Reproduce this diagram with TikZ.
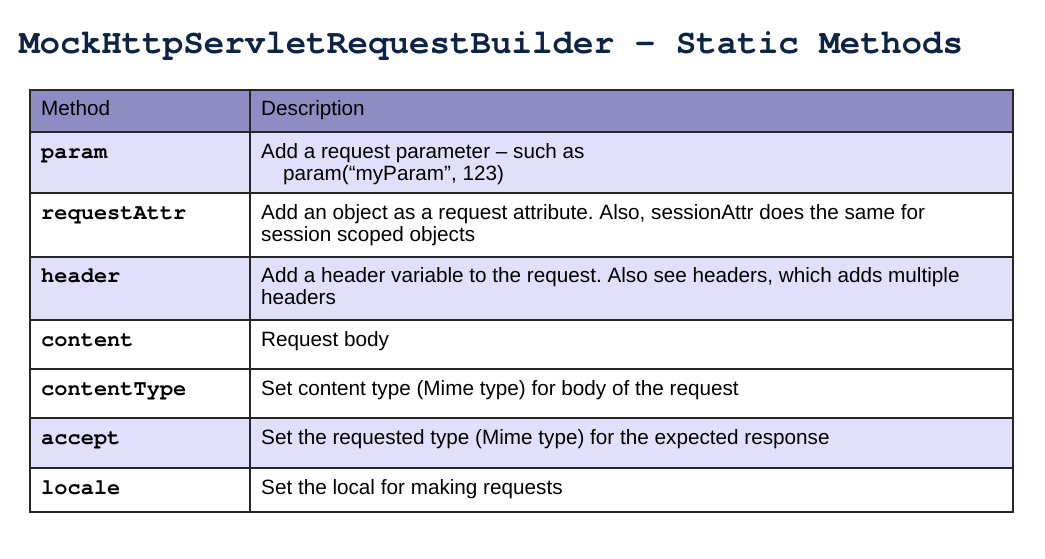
\documentclass[tikz,border=0pt]{standalone}
\usepackage{fontspec}
\setmainfont{Liberation Sans}
\newfontfamily\codefont{TeX Gyre Cursor}
\definecolor{hdrfill}{HTML}{8F8CC4}
\definecolor{lightrow}{HTML}{E1E0FB}
\definecolor{titlecol}{HTML}{0D2444}
\frenchspacing
\begin{document}
\begin{tikzpicture}[x=1pt,y=-1pt,
  txt/.style={anchor=base west,inner sep=0pt,font=\fontsize{20.7}{22}\selectfont},
  meth/.style={anchor=base west,inner sep=0pt,font=\codefont\bfseries\fontsize{22}{22}\selectfont},
  gridline/.style={draw=black!85,line width=1.1pt}]
\useasboundingbox (0,0) rectangle (1045,558);
% title
\node[anchor=base west,inner sep=0pt,text=titlecol,font=\codefont\bfseries\fontsize{34.2}{36}\selectfont] (title) at (19,53) {MockHttpServletRequestBuilder - Static Methods};
% row fills
\fill[hdrfill] (30,90) rectangle (1013,132);
\fill[lightrow] (30,132) rectangle (1013,193);
\fill[lightrow] (30,257) rectangle (1013,320);
\fill[lightrow] (30,418) rectangle (1013,468);
% grid
\foreach \y in {132,193,257,320,369,418,468} \draw[gridline] (30,\y) -- (1013,\y);
\draw[gridline] (250,90) -- (250,512);
\draw[gridline] (30,90) rectangle (1013,512);
% header
\node[txt] (h1) at (41,115) {Method};
\node[txt] (h2) at (261,115) {Description};
% rows
\node[meth] (m1) at (41,158) {param};
\node[txt] (d1) at (261,158) {Add a request parameter – such as};
\node[txt] (d1b) at (283,180) {param(“myParam”, 123)};
\node[meth] (m2) at (41,219) {requestAttr};
\node[txt] (d2) at (261,219) {Add an object as a request attribute. Also, sessionAttr does the same for};
\node[txt] (d2b) at (261,241) {session scoped objects};
\node[meth] (m3) at (41,282) {header};
\node[txt] (d3) at (261,282) {Add a header variable to the request. Also see headers, which adds multiple};
\node[txt] (d3b) at (261,304) {headers};
\node[meth] (m4) at (41,346) {content};
\node[txt] (d4) at (261,346) {Request body};
\node[meth] (m5) at (41,395) {contentType};
\node[txt] (d5) at (261,395) {Set content type (Mime type) for body of the request};
\node[meth] (m6) at (41,444) {accept};
\node[txt] (d6) at (261,444) {Set the requested type (Mime type) for the expected response};
\node[meth] (m7) at (41,494) {locale};
\node[txt] (d7) at (261,494) {Set the local for making requests};
\end{tikzpicture}
\end{document}
